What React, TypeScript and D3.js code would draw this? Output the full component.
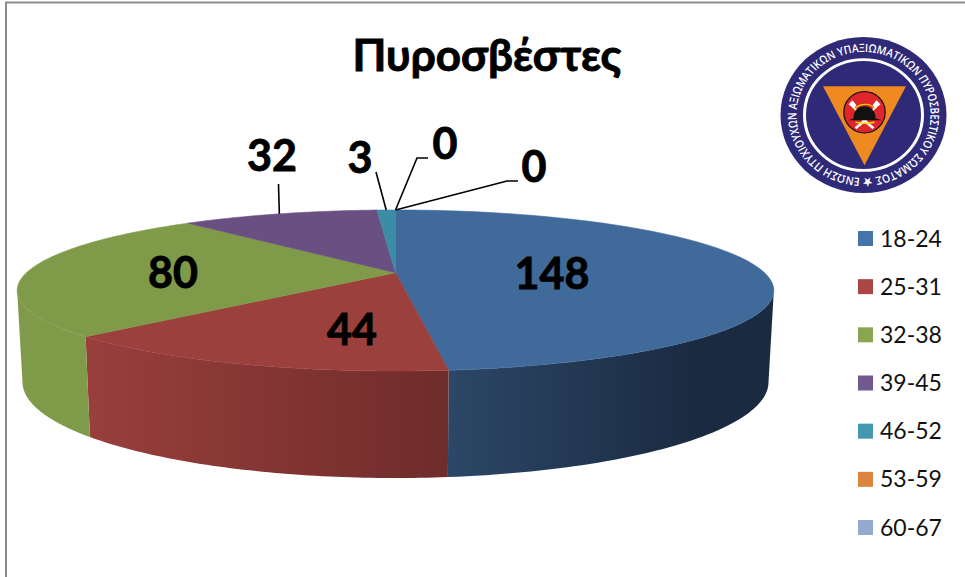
import React from "react";
import * as d3 from "d3";

const categories = ["18-24", "25-31", "32-38", "39-45", "46-52", "53-59", "60-67"];
const values = [148, 44, 80, 32, 3, 0, 0];
const topColors = ["#3f6a9a", "#9c403d", "#7f9b49", "#6a5082", "#3d8ca5", "#db843d", "#93a9cf"];
const legendColors = ["#4674aa", "#aa4643", "#8aa54f", "#71588f", "#4198af", "#db843d", "#93a9cf"];
const sideStops: Record<number, [string, string]> = {
  0: ["#2c4767", "#1a2a40"],
  1: ["#6f2c2a", "#983f3c"],
  2: ["#7f9b49", "#7f9b49"],
};
const chartTitle = "Πυροσβέστες";
const logoText = "ΕΝΩΣΗ ΠΤΥΧΙΟΥΧΩΝ ΑΞΙΩΜΑΤΙΚΩΝ ΥΠΑΞΙΩΜΑΤΙΚΩΝ ΠΥΡΟΣΒΕΣΤΙΚΟΥ ΣΩΜΑΤΟΣ ★";

const FONT = "Lato, 'Open Sans', sans-serif";
const CX = 395.5;
const K = 0.221;
const topPlane = { y0: 272.7, S: 76.6, R: 369 };
const botPlane = { y0: 360.8, S: 91.3, R: 363.8 };
type Plane = typeof topPlane;

const project = (a: number, p: Plane): [number, number] => {
  const u = Math.sin(a);
  const v = Math.cos(a);
  const w = 1 + K * v;
  return [CX + (p.R * u) / w, p.y0 - (p.S * v) / w];
};

const arcPoints = (a0: number, a1: number, p: Plane) =>
  d3.range(0, 61).map((i) => project(a0 + ((a1 - a0) * i) / 60, p));

const line = d3.line();
const slices = d3.pie<number>().sort(null).value((d) => d)(values);
const visibleFrom = Math.PI - Math.acos(K);
const visibleTo = Math.PI + Math.acos(K);

// Label placement: in-slice labels are anchored by slice index, outside ones carry a leader.
const insideLabels: Record<number, [number, number]> = { 0: [552, 289], 1: [352, 345], 2: [173, 288] };
const outsideLabels: Record<number, { at: [number, number]; via: [number, number][] }> = {
  3: { at: [272, 171], via: [[278.5, 184]] },
  4: { at: [360, 173], via: [[376, 172]] },
  5: { at: [445, 159], via: [[417, 158], [428, 158]] },
  6: { at: [534, 182], via: [[507, 181], [518, 181]] },
};

const legendY = d3.scalePoint<string>().domain(categories).range([238.5, 527.5]);

export default function App() {
  return (
    <svg
      width={965}
      height={577}
      viewBox="0 0 965 577"
      style={{ position: "absolute", left: 0, top: 0, background: "#fff" }}
      fontFamily={FONT}
    >
      <defs>
        {Object.entries(sideStops).map(([i, [a, b]]) => (
          <linearGradient
            key={i}
            id={`side${i}`}
            gradientUnits="userSpaceOnUse"
            x1={+i === 0 ? 448 : +i === 1 ? 448 : 20}
            x2={+i === 0 ? 700 : 90}
            y1={0}
            y2={0}
          >
            <stop offset="0" stopColor={a} />
            <stop offset="1" stopColor={b} />
          </linearGradient>
        ))}
        <path id="logoArc" d="M 0 67 A 67 67 0 1 1 0.01 67" fill="none" />
      </defs>

      <path d="M6 577 V2.5 H965" fill="none" stroke="#8c8c8c" strokeWidth={2} />

      {slices.map((s, i) => {
        const a0 = Math.max(s.startAngle, visibleFrom);
        const a1 = Math.min(s.endAngle, visibleTo);
        if (a1 <= a0) return null;
        const pts = [...arcPoints(a0, a1, topPlane), ...arcPoints(a0, a1, botPlane).reverse()];
        return <path key={i} d={line(pts as [number, number][]) + "Z"} fill={`url(#side${i})`} />;
      })}

      {slices.map((s, i) => {
        if (s.endAngle - s.startAngle <= 0) return null;
        const pts = [[CX, topPlane.y0], ...arcPoints(s.startAngle, s.endAngle, topPlane)];
        return (
          <path
            key={i}
            d={line(pts as [number, number][]) + "Z"}
            fill={topColors[i]}
            stroke={topColors[i]}
            strokeWidth={0.6}
          />
        );
      })}

      {slices.map((s, i) => {
        const out = outsideLabels[i];
        if (!out) return null;
        const start = project((s.startAngle + s.endAngle) / 2, topPlane);
        return (
          <path
            key={i}
            d={line([start, ...out.via] as [number, number][]) as string}
            fill="none"
            stroke="#000"
            strokeWidth={1.6}
          />
        );
      })}

      {values.map((v, i) => {
        const at = insideLabels[i] ?? outsideLabels[i].at;
        return (
          <text
            key={i}
            x={at[0]}
            y={at[1]}
            textAnchor="middle"
            fontSize={43}
            fontWeight={700}
            fill="#000"
            stroke="#000"
            strokeWidth={0.9}
          >
            {v}
          </text>
        );
      })}

      <text
        x={487}
        y={71}
        textAnchor="middle"
        fontSize={44}
        fontWeight={700}
        fill="#000"
        stroke="#000"
        strokeWidth={0.9}
      >
        {chartTitle}
      </text>

      {categories.map((c, i) => {
        const y = legendY(c) as number;
        return (
          <g key={c}>
            <rect x={858} y={y - 7.5} width={15} height={15} fill={legendColors[i]} />
            <text x={880} y={y + 8} fontSize={23} fill="#111">
              {c}
            </text>
          </g>
        );
      })}

      <g transform="translate(863.5 115) scale(1 0.94)">
        <circle r={83} fill="#2f2a78" />
        <circle r={59} fill="none" stroke="#fff" strokeWidth={3} />
        <g transform="rotate(3)">
          <text fontSize={12} fontWeight={600} fill="#fff" fontFamily="'Open Sans', sans-serif">
            <textPath href="#logoArc" textLength={418} lengthAdjust="spacingAndGlyphs">
              {logoText}
            </textPath>
          </text>
        </g>
      </g>
      <g transform="translate(864.5 112.3)">
        <path d="M-41.5 -26 H41.5 L0 53 Z" fill="#ee8a1f" />
        <circle r={20.7} fill="#e0262a" stroke="#111" strokeWidth={1.2} />
        <path d="M-9 16 L3 6 M9 16 L-3 6" stroke="#fff" strokeWidth={2.6} />
        <path d="M-8 -2 L-12 -6 M8 -2 L12 -6" stroke="#fff" strokeWidth={2} />
        <path d="M-16 -8 L-12 -12 L-8 -7 L-11 -4 Z M16 -8 L12 -12 L8 -7 L11 -4 Z" fill="#fff" />
        <path d="M-11 6 C-11 -3 -5 -6 0 -6 C6 -6 11 -2 11 6 L17 8 L-16 8 Z" fill="#111" />
        <path d="M-10 -3 C-6 -9 5 -10 10 -4" fill="none" stroke="#f5d90a" strokeWidth={1.2} />
        <path d="M-9 10 C-4 11 5 11 10 10" fill="none" stroke="#f5d90a" strokeWidth={1.4} />
      </g>
    </svg>
  );
}
